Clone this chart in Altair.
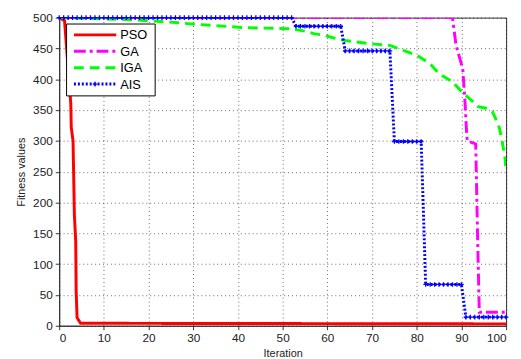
import altair as alt
import pandas as pd

# ---- data ----
pso_x = [0, 1.2, 2.6, 2.7, 3.1, 3.2, 3.3, 3.4, 3.7, 3.8, 4.0, 4.8, 100]
pso_y = [500, 495, 360, 322, 300, 260, 220, 180, 137, 56, 13, 4, 3]

ga_x = [0, 88, 88.8, 90.3, 90.8, 91.1, 91.3, 93.2, 93.6, 94, 100]
ga_y = [500, 500, 455, 417, 364, 321, 300, 295, 150, 22, 22]

iga_x = [0, 5, 10, 15, 20, 26, 31, 35, 41, 46, 52, 55, 57, 59.5, 62, 64, 67, 70.5,
         74, 77, 80, 83, 85, 88, 90, 92.5, 93.6, 95.4, 96.9, 97.6, 98.5, 99.1, 99.8, 100]
iga_y = [500, 499, 498, 497, 495, 492, 489, 487, 484, 483, 482, 478, 474, 471, 466,
         463, 460, 457, 455, 447, 439, 425, 409, 396, 380, 364, 356, 353, 348, 337,
         321, 300, 270, 250]

ais_levels = [(0, 52, 500), (53, 63, 486), (64, 74, 446), (75, 81, 299),
              (82, 90, 67), (91, 100, 14)]

series_names = ["PSO", "GA", "IGA", "AIS"]
series_colors = ["#FF0000", "#FF00FF", "#00FF00", "#0000FF"]
series_dash = [[1, 0], [12, 4, 3, 4], [10, 6], [2, 2]]
series_width = [3, 3, 3, 1.5]

rows = []
for x, y in zip(pso_x, pso_y):
    rows.append({"series": "PSO", "x": x, "y": y})
for x, y in zip(ga_x, ga_y):
    rows.append({"series": "GA", "x": x, "y": y})
for x, y in zip(iga_x, iga_y):
    rows.append({"series": "IGA", "x": x, "y": y})
ais_x, ais_y = [], []
for a, b, v in ais_levels:
    for i in range(a, b + 1):
        ais_x.append(i)
        ais_y.append(v)
for x, y in zip(ais_x, ais_y):
    rows.append({"series": "AIS", "x": x, "y": y})
df = pd.DataFrame(rows)
ais_df = pd.DataFrame({"x": ais_x, "y": ais_y})
leg_df = pd.DataFrame({"series": series_names})
box_df = pd.DataFrame({"k": [0]})

color_enc = alt.Color("series:N", scale=alt.Scale(domain=series_names, range=series_colors), legend=None)
dash_enc = alt.StrokeDash("series:N", scale=alt.Scale(domain=series_names, range=series_dash), legend=None)
width_enc = alt.StrokeWidth("series:N", scale=alt.Scale(domain=series_names, range=series_width), legend=None)

xs = alt.X("x:Q", scale=alt.Scale(domain=[0, 100], nice=False),
           axis=alt.Axis(title="Iteration", values=list(range(0, 101, 10))))
ys = alt.Y("y:Q", scale=alt.Scale(domain=[0, 500], nice=False),
           axis=alt.Axis(title="Fitness values", values=list(range(0, 501, 50))))

lines = alt.Chart(df).mark_line(clip=True).encode(
    x=xs, y=ys, color=color_enc, strokeDash=dash_enc, strokeWidth=width_enc, detail="series:N",
)

points = alt.Chart(ais_df).mark_point(
    shape="M-1,0L1,0M0,-1L0,1", filled=False, size=22, strokeWidth=1.3, color="#0000FF", opacity=1
).encode(x=xs, y=ys)

data_layer = alt.layer(lines, points)

# ---- legend drawn inside the plot (top-left) ----
leg_y = alt.Y("series:N", scale=alt.Scale(type="point", domain=series_names, range=[17.5, 67.5], padding=0),
              axis=None)

leg_box = alt.Chart(box_df).mark_rect(fill="white", stroke="black", strokeWidth=1).encode(
    x=alt.value(7.5), x2=alt.value(97.5), y=alt.value(6.5), y2=alt.value(79.5)
)
leg_lines = alt.Chart(leg_df).mark_rule().encode(
    x=alt.value(15), x2=alt.value(58), y=leg_y,
    color=color_enc, strokeDash=dash_enc, strokeWidth=width_enc,
)
leg_marker = alt.Chart(leg_df).transform_filter(alt.datum.series == "AIS").mark_point(
    shape="M-1,0L1,0M0,-1L0,1", filled=False, size=22, strokeWidth=1.3, color="#0000FF", opacity=1
).encode(x=alt.value(36.5), y=leg_y)
leg_text = alt.Chart(leg_df).mark_text(
    align="left", baseline="middle", font="Liberation Sans", fontSize=13, color="black", dy=0.5
).encode(x=alt.value(62), y=leg_y, text="series:N")

legend_layer = alt.layer(leg_box, leg_lines, leg_marker, leg_text)

chart = alt.layer(data_layer, legend_layer).resolve_scale(y="independent").properties(
    width=454, height=313,
    autosize=alt.AutoSizeParams(type="none"),
    padding={"left": 52, "top": 7, "right": 7, "bottom": 31},
).configure_view(
    stroke="#333333", strokeWidth=1
).configure_axis(
    labelFont="Liberation Sans", titleFont="Liberation Sans",
    labelFontSize=12, titleFontSize=11, titleFontWeight="normal",
    labelColor="#222222", titleColor="#222222",
    domainColor="#333333", tickColor="#333333", tickSize=4,
    grid=True, gridColor="#000000", gridDash=[1, 3], gridOpacity=0.6,
).configure_axisX(
    titlePadding=4, labelPadding=3,
).configure_axisY(
    titlePadding=6, labelPadding=3,
)

chart.save("out.html", embed_options={"renderer": "svg", "actions": False})
